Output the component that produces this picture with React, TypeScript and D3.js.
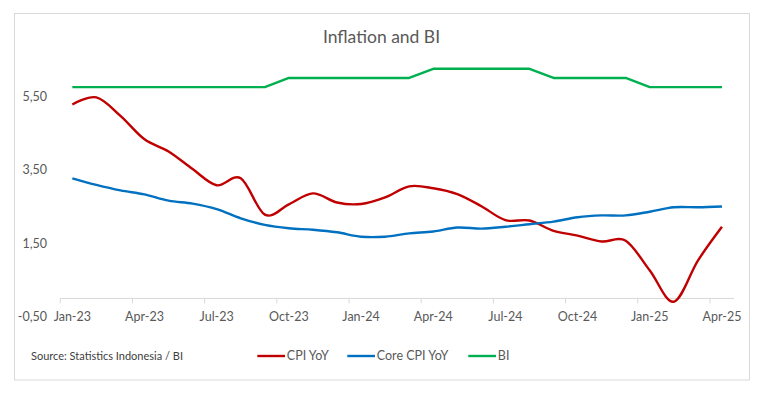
import { useEffect, useRef } from "react"
import * as d3 from "d3"

const months = [
  "Jan-23", "Feb-23", "Mar-23", "Apr-23", "May-23", "Jun-23", "Jul-23", "Aug-23", "Sep-23", "Oct-23", "Nov-23", "Dec-23",
  "Jan-24", "Feb-24", "Mar-24", "Apr-24", "May-24", "Jun-24", "Jul-24", "Aug-24", "Sep-24", "Oct-24", "Nov-24", "Dec-24",
  "Jan-25", "Feb-25", "Mar-25", "Apr-25",
]

const cpiYoY = [
  5.28, 5.47, 4.97, 4.33, 4.0, 3.52, 3.08, 3.27, 2.28, 2.56, 2.86, 2.61,
  2.57, 2.75, 3.05, 3.0, 2.84, 2.51, 2.13, 2.12, 1.84, 1.71, 1.55, 1.57,
  0.76, -0.09, 1.03, 1.95,
]

const coreCpiYoY = [
  3.27, 3.09, 2.94, 2.83, 2.66, 2.58, 2.43, 2.18, 2.0, 1.91, 1.87, 1.8,
  1.68, 1.68, 1.77, 1.82, 1.93, 1.9, 1.95, 2.02, 2.09, 2.21, 2.26, 2.26,
  2.36, 2.48, 2.48, 2.5,
]

const biRate = [
  5.75, 5.75, 5.75, 5.75, 5.75, 5.75, 5.75, 5.75, 5.75, 6.0, 6.0, 6.0,
  6.0, 6.0, 6.0, 6.25, 6.25, 6.25, 6.25, 6.25, 6.0, 6.0, 6.0, 6.0,
  5.75, 5.75, 5.75, 5.75,
]

const yTicks = [-0.5, 1.5, 3.5, 5.5]

const FONT = "Lato, 'Open Sans', sans-serif"
const TEXT = "#595959"

export default function App() {
  const svgRef = useRef<SVGSVGElement>(null)

  useEffect(() => {
    if (!svgRef.current) return
    const svg = d3.select(svgRef.current)
    svg.selectAll("*").remove()

    const W = 762
    const H = 398

    svg.attr("width", W).attr("height", H)

    // chart frame
    svg.append("rect")
      .attr("x", 0).attr("y", 0).attr("width", W).attr("height", H)
      .attr("fill", "white")
    svg.append("rect")
      .attr("x", 14.5).attr("y", 13.5).attr("width", 735).attr("height", 366.5)
      .attr("fill", "white")
      .attr("stroke", "#d9d9d9")
      .attr("stroke-width", 1)

    svg.append("text")
      .attr("x", 381.5).attr("y", 43)
      .attr("text-anchor", "middle")
      .style("font-family", FONT)
      .style("font-size", "17.5px")
      .style("fill", TEXT)
      .text("Inflation and BI")

    const x = d3.scaleBand<string>().domain(months).range([60.3, 734])
    const y = d3.scaleLinear().domain([-0.5, 6.5]).range([316.8, 59.6])
    const cx = (m: string) => (x(m) ?? 0) + x.bandwidth() / 2

    // y labels
    svg.selectAll(".ylab")
      .data(yTicks)
      .enter()
      .append("text")
      .attr("class", "ylab")
      .attr("x", 47)
      .attr("y", (d) => y(d))
      .attr("dy", "0.35em")
      .attr("text-anchor", "end")
      .style("font-family", FONT)
      .style("font-size", "12.5px")
      .style("fill", TEXT)
      .text((d) => d.toFixed(2).replace(".", ","))

    // category axis crossing at 0
    const y0 = y(0)
    svg.append("line")
      .attr("x1", 60.3).attr("x2", 734)
      .attr("y1", y0).attr("y2", y0)
      .attr("stroke", "#d9d9d9")
      .attr("stroke-width", 1)

    const tickMonths = months.filter((_, i) => i % 3 === 0)
    svg.selectAll(".xtick")
      .data(tickMonths)
      .enter()
      .append("line")
      .attr("class", "xtick")
      .attr("x1", (d) => x(d) ?? 0)
      .attr("x2", (d) => x(d) ?? 0)
      .attr("y1", y0)
      .attr("y2", y0 + 5)
      .attr("stroke", "#d9d9d9")

    svg.selectAll(".xlab")
      .data(tickMonths)
      .enter()
      .append("text")
      .attr("class", "xlab")
      .attr("x", (d) => cx(d))
      .attr("y", y(-0.5))
      .attr("dy", "0.35em")
      .attr("text-anchor", "middle")
      .style("font-family", FONT)
      .style("font-size", "12.5px")
      .style("fill", TEXT)
      .text((d) => d)

    const smooth = d3.line<number>()
      .x((_, i) => cx(months[i]))
      .y((d) => y(d))
      .curve(d3.curveCatmullRom.alpha(0))

    const straight = d3.line<number>()
      .x((_, i) => cx(months[i]))
      .y((d) => y(d))

    const series = [
      { label: "CPI YoY", values: cpiYoY, color: "#c00000", line: smooth },
      { label: "Core CPI YoY", values: coreCpiYoY, color: "#0070c0", line: smooth },
      { label: "BI", values: biRate, color: "#00b050", line: straight },
    ]

    series.forEach((s) => {
      svg.append("path")
        .datum(s.values)
        .attr("fill", "none")
        .attr("stroke", s.color)
        .attr("stroke-width", 2.4)
        .attr("stroke-linejoin", "round")
        .attr("d", s.line)
    })

    svg.append("text")
      .attr("x", 31).attr("y", 356)
      .attr("dy", "0.35em")
      .style("font-family", FONT)
      .style("font-size", "11px")
      .style("fill", "#404040")
      .text("Source: Statistics Indonesia / BI")

    const legendX = [257.3, 347.3, 468.3]
    const legend = svg.selectAll(".legend-item")
      .data(series)
      .enter()
      .append("g")
      .attr("class", "legend-item")
      .attr("transform", (_, i) => `translate(${legendX[i]}, 356)`)

    legend.append("line")
      .attr("x1", 0).attr("x2", 27.7)
      .attr("y1", 0).attr("y2", 0)
      .attr("stroke", (d) => d.color)
      .attr("stroke-width", 2.4)

    legend.append("text")
      .attr("x", 29.5)
      .attr("y", 0)
      .attr("dy", "0.35em")
      .style("font-family", FONT)
      .style("font-size", "12.5px")
      .style("fill", TEXT)
      .text((d) => d.label)
  }, [])

  return (
    <div style={{ position: "absolute", left: 0, top: 0 }}>
      <svg ref={svgRef} style={{ display: "block" }}></svg>
    </div>
  )
}
